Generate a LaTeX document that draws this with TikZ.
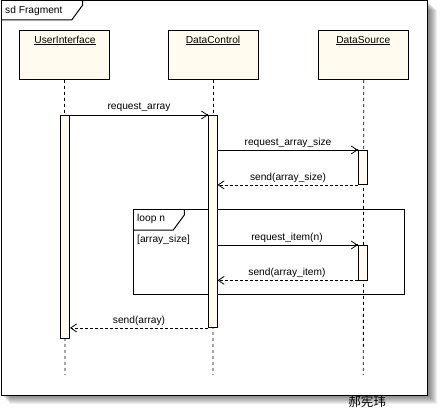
\documentclass[tikz,border=0pt]{standalone}
\usepackage{fontspec}
\setmainfont{Liberation Sans}
\newfontfamily\cjkfont{Noto Sans CJK SC}
\usetikzlibrary{arrows.meta}
\definecolor{cream}{RGB}{255,251,238}
\tikzset{
  lbl/.style={font=\fontsize{10.2}{12}\selectfont, inner sep=0pt},
  objbox/.style={draw, fill=cream, line width=0.9pt, minimum width=90pt, minimum height=49pt, anchor=north west, inner sep=0pt},
  lifeline/.style={line width=0.8pt, dash pattern=on 3pt off 3pt},
  actbar/.style={draw, fill=cream, line width=0.9pt},
  syncmsg/.style={line width=0.8pt, -{Straight Barb[length=6pt,width=8pt]}},
  retmsg/.style={line width=0.8pt, dash pattern=on 3pt off 2pt, -{Straight Barb[length=6pt,width=8pt]}},
  tipdot/.style={fill=black},
  framebox/.style={line width=1pt}
}
\begin{document}
\begin{tikzpicture}[x=1pt,y=-1pt]
\useasboundingbox (0,0) rectangle (444,412);
% shadow
\foreach \d in {1,...,9}{
  \fill[black,opacity=0.065] (1+\d,1+\d) rectangle (427.5+\d,395+\d);
}
% outer frame
\filldraw[fill=white, framebox] (1,1) rectangle (427.5,395);
\draw[framebox] (1,20) -- (71.7,20) -- (82.7,5) -- (82.7,1);
\node[lbl, anchor=west] (sdlabel) at (5,10.5) {sd Fragment};

% objects
\node[objbox] (ui) at (19,30) {};
\node[objbox] (dc) at (168,30) {};
\node[objbox] (ds) at (318.3,30) {};
\node[lbl] (uit) at (65,40.5) {\underline{UserInterface}};
\node[lbl] (dct) at (213,40.5) {\underline{DataControl}};
\node[lbl] (dst) at (363.3,40.5) {\underline{DataSource}};

% lifelines
\coordinate (uiend) at (65,375);
\coordinate (dcend) at (213,375);
\coordinate (dsend) at (363.3,375);
\draw[lifeline] (ui.south) -- (uiend);
\draw[lifeline] (dc.south) -- (dcend);
\draw[lifeline] (ds.south) -- (dsend);

% loop fragment
\draw[framebox] (133.3,209.3) rectangle (404.3,294.3);
\draw[framebox] (133.3,230) -- (173.3,230) -- (184.3,215) -- (184.3,209.3);
\node[lbl, anchor=west] (looplabel) at (137,218.5) {loop n};
\node[lbl, anchor=west] (guard) at (137,240) {[array\_size]};

% activation bars
\node[actbar, minimum width=9pt, minimum height=223pt, anchor=north, inner sep=0pt] (uiact) at (65,115) {};
\node[actbar, minimum width=8.5pt, minimum height=212pt, anchor=north, inner sep=0pt] (dcact) at (212.8,115) {};
\node[actbar, minimum width=9pt, minimum height=34pt, anchor=north, inner sep=0pt] (dsact1) at (362.8,150) {};
\node[actbar, minimum width=9pt, minimum height=34.5pt, anchor=north, inner sep=0pt] (dsact2) at (362.8,245) {};

% messages
\draw[syncmsg] (uiact.north east) -- (dcact.north west);
\fill[tipdot] ([xshift=-2.5pt,yshift=-1pt]dcact.north west) rectangle ([yshift=1pt]dcact.north west);
\node[lbl] (m1) at (139,107.5) {request\_array};

\draw[syncmsg] (dcact.east |- dsact1.north) -- (dsact1.north west);
\fill[tipdot] ([xshift=-2.5pt,yshift=-1pt]dsact1.north west) rectangle ([yshift=1pt]dsact1.north west);
\node[lbl] (m2) at (288,143) {request\_array\_size};

\draw[retmsg] (dsact1.south west) -- (dcact.east |- dsact1.south);
\node[lbl] (m3) at (288,177.5) {send(array\_size)};

\draw[syncmsg] (dcact.east |- dsact2.north) -- (dsact2.north west);
\fill[tipdot] ([xshift=-2.5pt,yshift=-1pt]dsact2.north west) rectangle ([yshift=1pt]dsact2.north west);
\node[lbl] (m4) at (287,237.5) {request\_item(n)};

\draw[retmsg] (dsact2.south west) -- (dcact.east |- dsact2.south);
\node[lbl] (m5) at (287,272.5) {send(array\_item)};

\draw[retmsg] (dcact.south west) -- (uiact.east |- dcact.south);
\node[lbl] (m6) at (139,321) {send(array)};

\node[font=\cjkfont\fontsize{12.5}{14}\selectfont, inner sep=0pt] (author) at (367,401.5) {郝宪玮};
\end{tikzpicture}
\end{document}
